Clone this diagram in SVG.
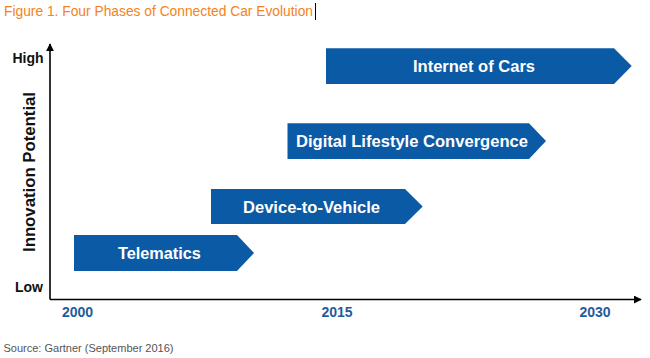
<svg xmlns="http://www.w3.org/2000/svg" width="650" height="358" viewBox="0 0 650 358">
<style>
.phase{fill:#0b5aa6}
.plabel{font-family:"Liberation Sans",Arial,sans-serif;font-weight:bold;font-size:16.5px;fill:#ffffff;text-anchor:middle}
.axis{stroke:#000;stroke-width:1.6;fill:none}
.lvl{font-family:"Liberation Sans",Arial,sans-serif;font-weight:bold;font-size:14px;fill:#111}
.year{font-family:"Liberation Sans",Arial,sans-serif;font-weight:bold;font-size:14px;fill:#1f5c9e;text-anchor:middle}
</style>
<defs>
<marker id="ah" viewBox="0 0 10 10" refX="9" refY="5" markerWidth="5" markerHeight="5" orient="auto" markerUnits="strokeWidth">
<path d="M0,0 L10,5 L0,10 z" fill="#000"/>
</marker>
</defs>
<rect width="650" height="358" fill="#fff"/>
<text x="4" y="16" font-family="'Liberation Sans',Arial,sans-serif" font-size="14" fill="#f58220" textLength="309" lengthAdjust="spacingAndGlyphs">Figure 1. Four Phases of Connected Car Evolution</text>
<line x1="315.5" y1="3" x2="315.5" y2="20" stroke="#000" stroke-width="1"/>
<g id="connectors">
<line class="axis" x1="50" y1="299.5" x2="50" y2="44" marker-end="url(#ah)"/>
<line class="axis" x1="50" y1="299.5" x2="641" y2="299.5" marker-end="url(#ah)"/>
</g>
<g id="axis-labels">
<text class="lvl" x="12.5" y="63">High</text>
<text class="lvl" x="15" y="291.5">Low</text>
<text x="34.5" y="172" transform="rotate(-90 34.5 172)" font-family="'Liberation Sans',Arial,sans-serif" font-weight="bold" font-size="16" fill="#111" text-anchor="middle" textLength="160" lengthAdjust="spacingAndGlyphs">Innovation Potential</text>
<text class="year" x="77.5" y="317">2000</text>
<text class="year" x="337" y="317">2015</text>
<text class="year" x="595" y="317">2030</text>
</g>
<g id="telematics">
<polygon class="phase" points="74,235 237,235 254,253 237,271 74,271"/>
<text class="plabel" x="159.4" y="259.3" textLength="83" lengthAdjust="spacingAndGlyphs">Telematics</text>
</g>
<g id="device-to-vehicle">
<polygon class="phase" points="211,189 405,189 422.7,206.5 405,224 211,224"/>
<text class="plabel" x="311.5" y="213.3" textLength="137" lengthAdjust="spacingAndGlyphs">Device-to-Vehicle</text>
</g>
<g id="digital-lifestyle">
<polygon class="phase" points="287.5,123.3 529,123.3 546,141 529,159 287.5,159"/>
<text class="plabel" x="412" y="146.7" textLength="232" lengthAdjust="spacingAndGlyphs">Digital Lifestyle Convergence</text>
</g>
<g id="internet-of-cars">
<polygon class="phase" points="326,48.3 614,48.3 631.7,66 614,84 326,84"/>
<text class="plabel" x="474" y="72.3" textLength="122" lengthAdjust="spacingAndGlyphs">Internet of Cars</text>
</g>
<text x="3.5" y="352" font-family="'Liberation Sans',Arial,sans-serif" font-size="11" fill="#555" textLength="170" lengthAdjust="spacingAndGlyphs">Source: Gartner (September 2016)</text>
</svg>
